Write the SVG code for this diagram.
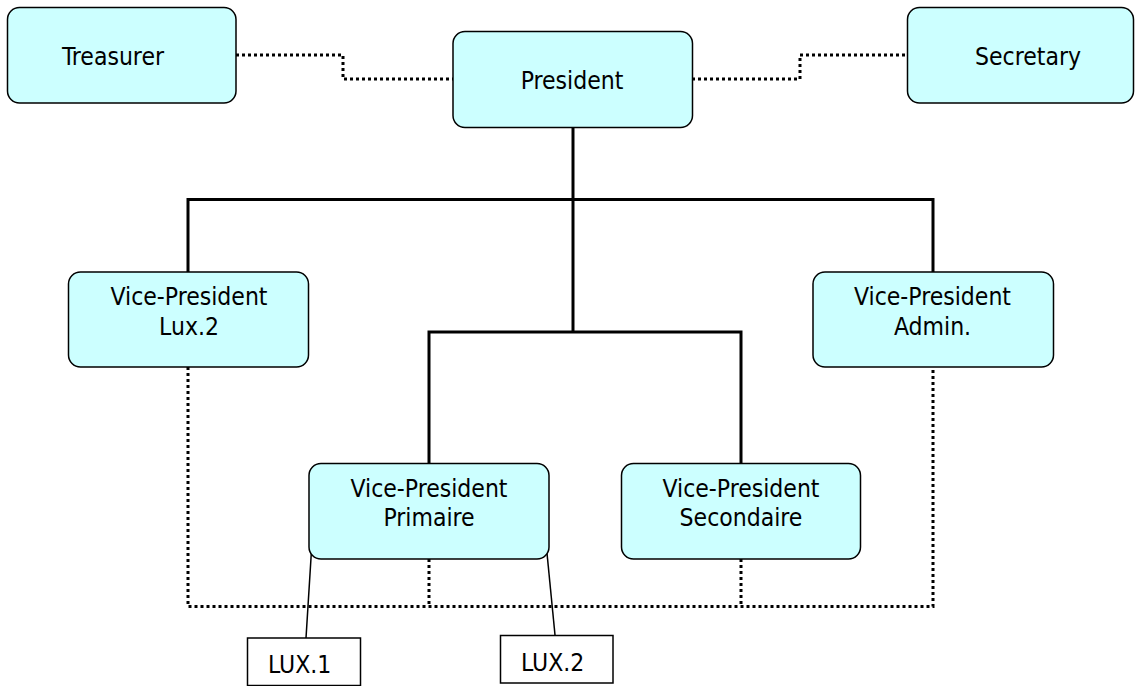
<svg xmlns="http://www.w3.org/2000/svg" width="1140" height="686" viewBox="0 0 1140 686">
<style>
.box{fill:#CCFFFF;stroke:#000;stroke-width:1.5}
.lux{fill:#fff;stroke:#000;stroke-width:1.5}
.t{font-family:"DejaVu Sans Condensed","DejaVu Sans",sans-serif;font-stretch:condensed;font-size:24.5px;fill:#000;text-anchor:middle}
.ts{font-family:"DejaVu Sans Condensed","DejaVu Sans",sans-serif;font-stretch:condensed;font-size:24.5px;fill:#000}
.solid{fill:none;stroke:#000;stroke-width:3}
.dot{fill:none;stroke:#000;stroke-width:3;stroke-dasharray:3 3}
.thin{fill:none;stroke:#000;stroke-width:1.5}
</style>
<rect width="1140" height="686" fill="#fff"/>
<g id="connectors">
<path class="dot" d="M236,55 H343 V79 H453"/>
<path class="dot" d="M692,79 H800 V55 H907"/>
<path class="solid" d="M573,127 V332"/>
<path class="solid" d="M188,272 V199.5 H933 V272"/>
<path class="solid" d="M429,463 V332 H741 V463"/>
<path class="dot" d="M188,367 V606.5 H933 V367"/>
<path class="dot" d="M429,559 V606.5"/>
<path class="dot" d="M741,559 V606.5"/>
<path class="thin" d="M312,542 L306,638"/>
<path class="thin" d="M546,543 L555,635"/>
</g>
<g id="treasurer">
<rect class="box" x="7.5" y="7.5" width="228.5" height="95.5" rx="12"/>
<text class="t" x="113" y="65">Treasurer</text>
</g>
<g id="president">
<rect class="box" x="453" y="31.5" width="239.5" height="96" rx="12"/>
<text class="t" x="572" y="89">President</text>
</g>
<g id="secretary">
<rect class="box" x="907.5" y="7.5" width="226" height="95.5" rx="12"/>
<text class="t" x="1028" y="65">Secretary</text>
</g>
<g id="vp-lux2">
<rect class="box" x="68.5" y="272" width="240" height="95" rx="12"/>
<text class="t" x="189" y="305">Vice-President</text>
<text class="t" x="189" y="335">Lux.2</text>
</g>
<g id="vp-admin">
<rect class="box" x="813" y="272" width="240.5" height="95" rx="12"/>
<text class="t" x="932.5" y="305">Vice-President</text>
<text class="t" x="932.5" y="335">Admin.</text>
</g>
<g id="vp-primaire">
<rect class="box" x="309" y="463.5" width="240" height="95.5" rx="12"/>
<text class="t" x="429" y="496.5">Vice-President</text>
<text class="t" x="429" y="526">Primaire</text>
</g>
<g id="vp-secondaire">
<rect class="box" x="621.5" y="463.5" width="239" height="95.5" rx="12"/>
<text class="t" x="741" y="496.5">Vice-President</text>
<text class="t" x="741" y="526">Secondaire</text>
</g>
<g id="lux1">
<rect class="lux" x="247.5" y="638" width="113" height="47.5"/>
<text class="ts" x="268" y="673">LUX.1</text>
</g>
<g id="lux2">
<rect class="lux" x="500.5" y="635.5" width="112.5" height="47.5"/>
<text class="ts" x="521" y="671">LUX.2</text>
</g>
</svg>
